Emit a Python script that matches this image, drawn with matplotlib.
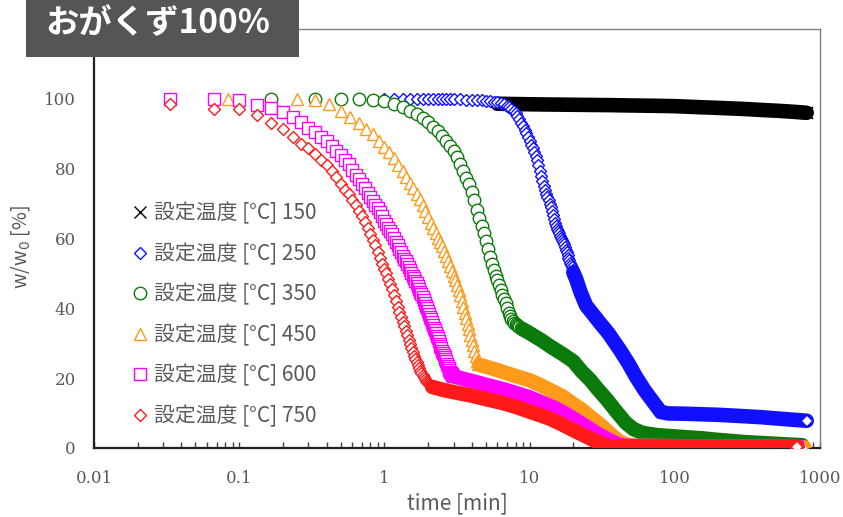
import numpy as np
import matplotlib
matplotlib.use("Agg")
import matplotlib.pyplot as plt
from matplotlib.lines import Line2D
from matplotlib.patches import Rectangle

plt.rcParams['font.family'] = ['Noto Sans CJK JP', 'DejaVu Sans']

# ===============================
# Data (time [min], w/w0 [%])
# ===============================

# 150 C (x)
t_150 = [6, 8, 12, 20, 35, 50, 75, 100, 150, 200, 300, 400, 500, 600, 700, 810]
w_150 = [98.6, 98.5, 98.4, 98.3, 98.2, 98.1, 98.0, 97.9, 97.6, 97.4, 97.1, 96.8,
         96.6, 96.4, 96.2, 96.0]

# 250 C (diamond, blue)
t_250 = [1.0, 1.1667, 1.3333, 1.5, 1.6667, 1.8333, 2.0, 2.1667, 2.3333, 2.5, 2.6667,
         2.8333, 3.0,
         3.3333, 3.6667, 4.0, 4.3333, 4.6667, 5.0, 5.3333, 5.6667, 6.0, 6.3333, 6.6667,
         7.0, 7.25, 7.5, 7.75, 8.0, 8.25, 8.5, 8.75, 9.0, 9.25, 9.5, 9.75,
         10.0, 10.25, 10.5, 10.75, 11.0, 11.25, 11.5, 11.75, 12.0, 12.25, 12.5, 12.75,
         13.0, 13.25, 13.5, 13.75, 14.0, 14.25, 14.5, 14.75, 15.0, 15.25, 15.5, 15.75,
         16.0, 16.25, 16.5, 16.75, 17.0, 17.25, 17.5, 17.75, 18.0, 18.25, 18.5, 18.75,
         19.0, 19.25, 19.5, 19.75, 20.0,
         21, 22.5, 24.5, 27, 30, 35, 42, 48, 54, 62, 71, 80, 90, 120, 200, 300, 400,
         600, 810]
w_250 = [100.0, 100.0, 100.0, 100.0, 100.0, 100.0, 100.0, 100.0, 100.0, 100.0, 100.0,
         99.9, 99.9,
         99.9, 99.8, 99.8, 99.7, 99.6, 99.5, 99.4, 99.2, 99.0, 98.8, 98.4,
         98.0, 97.6, 97.1, 96.5, 95.8, 95.0, 94.1, 93.2, 92.2, 91.2, 90.1, 89.0,
         87.8, 86.9, 86.0, 84.9, 83.7, 82.4, 81.0, 79.4, 77.8, 76.4, 75.0, 73.9,
         72.8, 71.9, 71.0, 70.0, 69.0, 67.9, 66.8, 65.6, 64.5, 63.6, 62.8, 62.1,
         61.5, 60.8, 60.2, 59.6, 59.0, 58.3, 57.6, 56.8, 56.0, 55.2, 54.5, 53.7,
         53.0, 52.3, 51.7, 51.0, 50.3,
         48.2, 44.5, 40.8, 38.6, 36.2, 32.8, 28.0, 24.2, 20.4, 16.5, 13.2, 10.3, 9.9,
         9.8, 9.5, 9.1, 8.8, 8.2, 7.8]

# 350 C (circle, green)
t_350 = [0.1667, 0.3333, 0.5, 0.6667, 0.8333, 1.0, 1.1667, 1.3333, 1.5, 1.6667,
         1.8333, 2.0, 2.1667, 2.3333, 2.5, 2.6667, 2.8333, 3.0, 3.1667, 3.3333,
         3.5, 3.6667, 3.8333, 4.0, 4.1667, 4.3333, 4.5, 4.6667, 4.8333, 5.0,
         5.1667, 5.3333, 5.5, 5.6667, 5.8333, 6.0, 6.1667, 6.3333, 6.5, 6.6667,
         6.8333, 7.0, 7.1667, 7.3333, 7.5, 7.6667, 7.8333, 8.0, 8.1667, 8.3333,
         8.5, 8.6667, 8.8333, 9.0,
         10, 12, 14, 17, 20, 23, 26, 29, 34, 40, 46, 52, 60, 75, 100, 150, 200,
         300, 400, 600, 750]
w_350 = [100.0, 100.0, 100.0, 100.0, 99.8, 99.4, 98.6, 97.6, 96.6, 95.6,
         94.6, 93.4, 92.0, 90.9, 89.3, 88.0, 86.6, 85.0, 83.3, 81.2,
         79.2, 77.2, 75.6, 73.3, 71.0, 68.3, 65.8, 63.6, 61.5, 59.3,
         57.0, 54.8, 52.8, 51.0, 49.4, 48.0, 46.8, 45.3, 43.8, 42.6,
         41.4, 40.0, 38.8, 37.8, 37.0, 36.4, 35.9, 35.5, 35.2, 34.9,
         34.6, 34.4, 34.2, 34.0,
         32.9, 30.9, 29.0, 26.8, 24.8, 21.8, 19.6, 17.2, 13.9, 10.2, 7.2, 5.4,
         4.3, 3.7, 3.3, 2.8, 2.3, 1.7, 1.4, 1.0, 0.8]

# 450 C (triangle, orange)
t_450 = [0.0833, 0.25, 0.3333, 0.4167, 0.5, 0.5833, 0.6667, 0.75, 0.8333, 0.9167,
         1.0, 1.0833, 1.1667, 1.25, 1.3333, 1.4167, 1.5, 1.5833, 1.6667, 1.75,
         1.8333, 1.9167, 2.0, 2.0833, 2.1667, 2.25, 2.3333, 2.4167, 2.5, 2.5833,
         2.6667, 2.75, 2.8333, 2.9167, 3.0, 3.0833, 3.1667, 3.25, 3.3333, 3.4167,
         3.5, 3.5833, 3.6667, 3.75, 3.8333, 3.9167, 4.0, 4.0833, 4.1667, 4.25,
         4.3333, 4.4167, 4.5,
         5.0, 6.0, 8.0, 10, 12, 14, 17, 20, 23, 27, 30, 34, 38, 42, 46, 55, 100,
         200, 400, 780]
w_450 = [100.0, 100.0, 99.6, 98.6, 96.5, 94.7, 93.0, 91.4, 89.8, 88.0,
         86.3, 84.8, 83.0, 81.0, 79.2, 77.6, 76.0, 74.4, 72.8, 71.2,
         69.5, 67.8, 66.1, 64.5, 62.9, 61.5, 60.2, 59.0, 57.8, 56.4,
         55.0, 53.6, 52.2, 50.6, 49.4, 48.0, 46.6, 45.2, 43.7, 42.1,
         40.4, 38.8, 37.2, 35.6, 34.0, 32.5, 30.9, 29.4, 27.9, 26.4,
         25.0, 24.1, 23.8,
         23.3, 22.3, 20.6, 19.4, 17.9, 16.5, 14.7, 12.6, 10.9, 8.5, 7.0, 5.0, 3.2,
         1.8, 1.0, 0.6, 0.5, 0.4, 0.3, 0.2]

# 600 C (square, magenta)
t_600 = [0.0333, 0.0667, 0.1, 0.1333, 0.1667, 0.2, 0.2333, 0.2667, 0.3, 0.3333,
         0.3667, 0.4, 0.4333, 0.4667, 0.5, 0.5333, 0.5667, 0.6, 0.6333, 0.6667,
         0.7, 0.7333, 0.7667, 0.8, 0.8333, 0.8667, 0.9, 0.9333, 0.9667, 1.0,
         1.0333, 1.0667, 1.1, 1.1333, 1.1667, 1.2, 1.2333, 1.2667, 1.3, 1.3333,
         1.3667, 1.4, 1.4333, 1.4667, 1.5, 1.5333, 1.5667, 1.6, 1.6333, 1.6667,
         1.7, 1.7333, 1.7667, 1.8, 1.8333, 1.8667, 1.9, 1.9333, 1.9667, 2.0,
         2.0333, 2.0667, 2.1, 2.1333, 2.1667, 2.2, 2.2333, 2.2667, 2.3, 2.3333,
         2.3667, 2.4, 2.4333, 2.4667, 2.5, 2.5333, 2.5667, 2.6, 2.6333, 2.6667,
         2.7, 2.7333, 2.7667, 2.8, 2.8333, 2.8667, 2.9, 2.9333, 2.9667, 3.0,
         4.0, 5.0, 6.5, 8.0, 10, 12.5, 15, 18, 21, 25, 30, 35, 40, 45, 60, 100,
         200, 400, 700]
w_600 = [100.0, 100.0, 99.8, 98.3, 97.3, 96.2, 94.8, 93.3, 91.7, 90.4,
         89.2, 88.0, 86.6, 85.2, 83.8, 82.5, 81.2, 79.7, 78.3, 77.0,
         75.7, 74.4, 73.1, 71.9, 70.7, 69.6, 68.6, 67.5, 66.3, 65.1,
         64.1, 63.1, 62.1, 61.2, 60.1, 59.0, 58.0, 57.0, 56.0, 55.0,
         54.2, 53.5, 52.7, 51.9, 51.0, 50.2, 49.4, 48.7, 47.9, 47.2,
         46.4, 45.6, 44.8, 44.0, 43.2, 42.4, 41.6, 40.8, 40.0, 39.2,
         38.4, 37.6, 36.8, 36.0, 35.2, 34.5, 33.7, 33.0, 32.2, 31.5,
         30.7, 29.9, 29.2, 28.6, 27.9, 27.3, 26.7, 26.1, 25.4, 24.8,
         24.1, 23.5, 22.9, 22.3, 21.8, 21.4, 21.1, 20.9, 20.7, 20.5,
         19.2, 18.1, 16.9, 15.8, 14.5, 12.8, 11.4, 9.6, 7.9, 5.9, 3.8, 2.3, 1.2,
         0.6, 0.5, 0.5, 0.4, 0.4, 0.3]

# 750 C (diamond, red)
t_750 = [0.0333, 0.0667, 0.1, 0.1333, 0.1667, 0.2, 0.2333, 0.2667, 0.3, 0.3333,
         0.3667, 0.4, 0.4333, 0.4667, 0.5, 0.5333, 0.5667, 0.6, 0.6333, 0.6667,
         0.7, 0.7333, 0.7667, 0.8, 0.8333, 0.8667, 0.9, 0.9333, 0.9667, 1.0,
         1.0333, 1.0667, 1.1, 1.1333, 1.1667, 1.2, 1.2333, 1.2667, 1.3, 1.3333,
         1.3667, 1.4, 1.4333, 1.4667, 1.5, 1.5333, 1.5667, 1.6, 1.6333, 1.6667,
         1.7, 1.7333, 1.7667, 1.8, 1.8333, 1.8667, 1.9, 1.9333, 1.9667, 2.0,
         2.0333, 2.0667, 2.1, 2.1333,
         2.5, 3.0, 4.0, 5.0, 6.5, 8.0, 10, 12, 14, 17, 20, 24, 28, 32, 36, 50,
         100, 200, 400, 700]
w_750 = [98.6, 97.1, 97.1, 95.4, 93.2, 91.3, 89.1, 87.2, 85.8, 84.2,
         82.6, 81.0, 79.2, 77.5, 75.6, 74.0, 72.6, 71.0, 69.5, 68.0,
         66.4, 64.8, 63.0, 61.4, 59.7, 58.0, 56.2, 54.5, 52.8, 51.4,
         50.0, 48.5, 47.0, 45.5, 43.8, 42.0, 40.5, 39.0, 37.6, 36.2,
         34.9, 33.6, 32.3, 31.0, 29.8, 28.6, 27.5, 26.4, 25.4, 24.5,
         23.7, 22.9, 22.1, 21.4, 20.8, 20.2, 19.7, 19.2, 18.8, 18.5,
         18.2, 17.9, 17.7, 17.5,
         16.7, 16.0, 15.0, 14.0, 12.9, 11.8, 10.4, 9.3, 8.3, 6.6, 5.1, 3.5, 2.1,
         1.1, 0.5, 0.4, 0.4, 0.4, 0.3, 0.3]

labels = ["設定温度 [°C] 150", "設定温度 [°C] 250", "設定温度 [°C] 350",
          "設定温度 [°C] 450", "設定温度 [°C] 600", "設定温度 [°C] 750"]

# ===============================
# Style
# ===============================

# data, colour, marker, marker size, time where the points merge into a band
series = [
    (t_150, w_150, "#000000", "x", 9, 6.0),
    (t_250, w_250, "#1010ff", "D", 6.2, 20.0),
    (t_350, w_350, "#0a7a0a", "o", 9, 9.0),
    (t_450, w_450, "#ff9a1a", "^", 9, 4.5),
    (t_600, w_600, "#ff00ff", "s", 8.5, 3.0),
    (t_750, w_750, "#ff1a1a", "D", 6.2, 2.1333),
]
BAND_LW = 10.5
GRAY = "#595959"

fig = plt.figure(figsize=(8.43, 5.17), dpi=100)
ax = fig.add_axes([0.1115, 0.1335, 0.8612, 0.8104])

handles = []
for i, (t, w, col, mk, ms, t_band) in enumerate(series):
    t = np.asarray(t)
    w = np.asarray(w)
    z = 2 + i
    band = t >= t_band
    sparse = t < t_band
    # single points first, then the merged band on top of them
    if sparse.any():
        ax.plot(t[sparse], w[sparse], ls='none', marker=mk, ms=ms, mfc='white',
                mec=col, mew=1.0, zorder=z)
    ax.plot(t[band], w[band], color=col, lw=BAND_LW, solid_capstyle='round',
            solid_joinstyle='round', zorder=z)
    ax.plot(t[-1:], w[-1:], ls='none', marker=mk, ms=ms, mfc='white',
            mec=col, mew=1.2, zorder=z)
    handles.append(Line2D([], [], ls='none', marker=mk, ms=ms, mfc='white',
                          mec=col, mew=1.0))

ax.set_xscale('log')
ax.set_xlim(0.01, 1000)
ax.set_ylim(0, 120)
ax.set_xticks([0.01, 0.1, 1, 10, 100, 1000],
              ["0.01", "0.1", "1", "10", "100", "1000"])
ax.set_yticks([0, 20, 40, 60, 80, 100])
ax.tick_params(axis='x', which='both', direction='in', length=4, width=1,
               color='#404040', pad=15.5, labelsize=12, labelcolor=GRAY)
ax.tick_params(axis='y', length=0, pad=13, labelsize=12, labelcolor=GRAY)
for lab in ax.get_xticklabels() + ax.get_yticklabels():
    lab.set_fontfamily('DejaVu Serif')

for side in ['left', 'bottom']:
    ax.spines[side].set_color('#202020')
    ax.spines[side].set_linewidth(1.6)
for side in ['top', 'right']:
    ax.spines[side].set_color('#808080')
    ax.spines[side].set_linewidth(1.0)

ax.set_xlabel("time [min]", fontsize=15, color=GRAY, labelpad=4)
ax.set_ylabel("w/w$_0$ [%]", fontsize=14, color=GRAY)
ax.yaxis.set_label_coords(-0.085, 0.48)

ax.legend(handles, labels, loc='upper left', bbox_to_anchor=(0.052, 0.586),
          frameon=False, fontsize=15, handlelength=0.8, handletextpad=0.25,
          labelspacing=0.88, borderpad=0, borderaxespad=0, labelcolor=GRAY)

# title box
fig.patches.append(Rectangle((0.0308, 0.8897), 0.3238, 0.1103,
                             transform=fig.transFigure, facecolor='#555555',
                             edgecolor='none', zorder=10))
fig.text(0.0534, 0.9536, "おがくず100%", color='white', fontsize=24,
         fontweight='bold', va='center', ha='left', zorder=11)

fig.savefig("out.png", dpi=100)
